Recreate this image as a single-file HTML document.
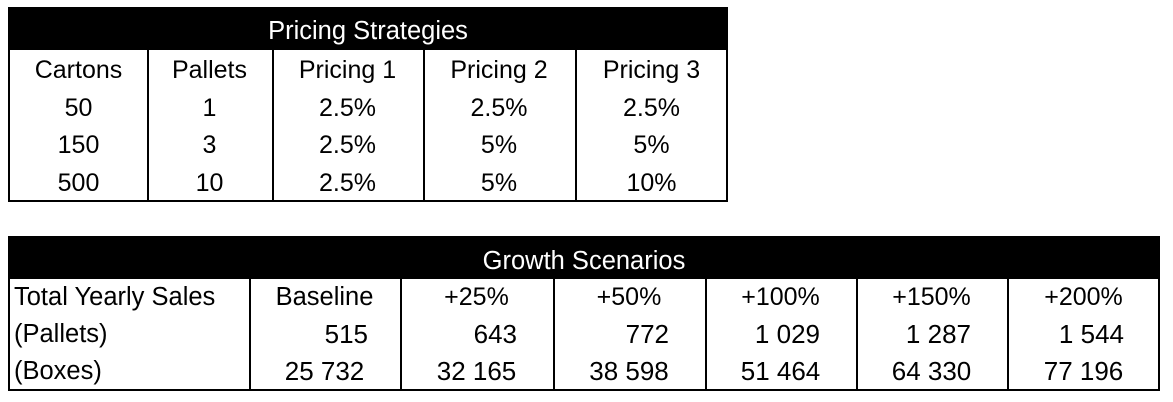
<!DOCTYPE html>
<html><head><meta charset="utf-8"><style>
body{margin:0;width:1173px;height:402px;background:#fff;position:relative;overflow:hidden;font-family:"Liberation Sans",Arial,sans-serif;color:#000}
.box{position:absolute;border:2px solid #000;box-sizing:border-box}
.hdr{position:absolute;left:0;right:0;top:0;background:#000;color:#fff;text-align:center}
.c{position:absolute;font-size:25px;line-height:37px;white-space:nowrap}
.v{position:absolute;width:2px;background:#000}
</style></head><body>
<div class="box" style="left:8px;top:7px;width:720px;height:195px">
 <div class="hdr" style="height:41px;line-height:44px;font-size:25.5px">Pricing Strategies</div>
 <div class="v" style="left:137px;top:41px;bottom:0"></div>
 <div class="v" style="left:262px;top:41px;bottom:0"></div>
 <div class="v" style="left:413px;top:41px;bottom:0"></div>
 <div class="v" style="left:565px;top:41px;bottom:0"></div>
 <div id="ptab"></div>
</div>
<div class="box" style="left:8px;top:236px;width:1152px;height:155px">
 <div class="hdr" style="height:41px;line-height:46px;font-size:25.5px">Growth Scenarios</div>
 <div class="v" style="left:239px;top:41px;bottom:0"></div>
 <div class="v" style="left:390px;top:41px;bottom:0"></div>
 <div class="v" style="left:543px;top:41px;bottom:0"></div>
 <div class="v" style="left:695px;top:41px;bottom:0"></div>
 <div class="v" style="left:846px;top:41px;bottom:0"></div>
 <div class="v" style="left:997px;top:41px;bottom:0"></div>
 <div id="gtab"></div>
</div>
<script>
const pRows=[["Cartons","Pallets","Pricing 1","Pricing 2","Pricing 3"],["50","1","2.5%","2.5%","2.5%"],["150","3","2.5%","5%","5%"],["500","10","2.5%","5%","10%"]];
const gHead=["Total Yearly Sales","Baseline","+25%","+50%","+100%","+150%","+200%"];
const gPallets=["515","643","772","1 029","1 287","1 544"];
const gBoxes=["25 732","32 165","38 598","51 464","64 330","77 196"];
const pCols=[0,137,262,413,565,718];
const gCols=[0,239,390,543,695,846,997,1150];
const pt=document.getElementById('ptab');
pRows.forEach((r,i)=>r.forEach((t,j)=>{const d=document.createElement('div');d.className='c';


d.style.left=pCols[j]+'px';d.style.width=(pCols[j+1]-pCols[j])+'px';d.style.textAlign='center';d.style.top=(43+i*37.5)+'px';d.textContent=t;pt.appendChild(d);}));
const gt=document.getElementById('gtab');
function add(t,j,row,align,fs){const d=document.createElement('div');d.className='c';


d.style.left=(gCols[j]+(j==0?4:0))+'px';d.style.width=(gCols[j+1]-gCols[j]-(align=='right'?(j==1?32:36):0))+'px';d.style.textAlign=align;d.style.top=(41+row*37)+'px';d.style.fontSize=fs+'px';d.textContent=t;gt.appendChild(d);}
gHead.forEach((t,j)=>add(t,j,0,j==0?'left':'center',j>1?25:25.5));
add("(Pallets)",0,1,'left',25.5);add("(Boxes)",0,2,'left',25.5);
gPallets.forEach((t,j)=>add(t,j+1,1,'right',26));
gBoxes.forEach((t,j)=>add(t,j+1,2,'center',26));
</script>
</body></html>
